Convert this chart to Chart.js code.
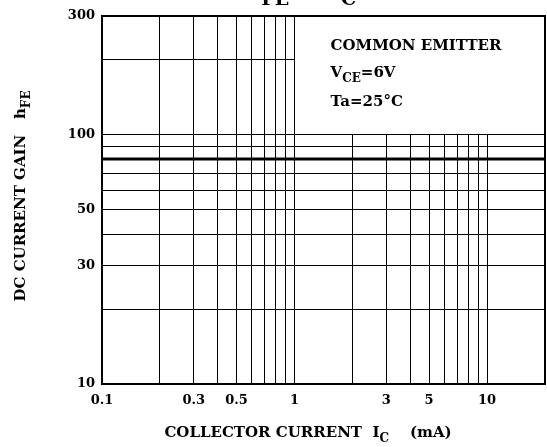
<!DOCTYPE html>
<html>
<head>
<meta charset="utf-8">
<script src="https://cdn.jsdelivr.net/npm/chart.js@4/dist/chart.umd.min.js"></script>
<style>
  html, body { margin: 0; padding: 0; background: #fff; }
  #wrap { width: 547px; height: 447px; position: relative; }
</style>
</head>
<body>
<div id="wrap"><canvas id="c"></canvas></div>
<script>
// ---- data ----
const collectorCurrent = [0.1, 20];          // IC (mA)
const dcCurrentGain = [80, 80];              // hFE
const xGridValues = [0.1, 0.2, 0.3, 0.4, 0.5, 0.6, 0.7, 0.8, 0.9, 1, 2, 3, 4, 5, 6, 7, 8, 9, 10, 20];
const yGridValues = [10, 20, 30, 40, 50, 60, 70, 80, 90, 100, 200, 300];
const xTickLabels = [0.1, 0.3, 0.5, 1, 3, 5, 10];
const yTickLabels = [10, 30, 50, 100, 300];
const conditionLines = ["COMMON EMITTER", "VCE=6V", "Ta=25°C"];

const FONT = "'DejaVu Serif', 'Liberation Serif', serif";

function drawRich(ctx, parts, x, y, align, size, subScale) {
  const ss = subScale || 0.8;
  let total = 0;
  const widths = parts.map(p => {
    ctx.font = `bold ${p.sub ? Math.round(size * ss) : size}px ${FONT}`;
    const w = ctx.measureText(p.t).width;
    total += w;
    return w;
  });
  let cx = align === 'center' ? x - total / 2 : x;
  parts.forEach((p, i) => {
    ctx.font = `bold ${p.sub ? Math.round(size * ss) : size}px ${FONT}`;
    ctx.fillText(p.t, cx, y + (p.sub ? size * 0.35 : 0));
    cx += widths[i];
  });
}

const framePlugin = {
  id: 'frame',
  beforeDatasetsDraw(chart) {
    const { ctx, chartArea: a, scales } = chart;
    const x1 = Math.floor(scales.x.getPixelForValue(1));
    const y100 = Math.floor(scales.y.getPixelForValue(100));
    ctx.save();
    ctx.fillStyle = '#fff';
    ctx.fillRect(x1 + 1, a.top + 1, a.right - x1 + 2, y100 - a.top - 1);
    ctx.restore();
  },
  afterDatasetsDraw(chart) {
    const { ctx, chartArea: a, scales } = chart;
    ctx.save();
    ctx.strokeStyle = '#000';
    ctx.lineWidth = 2;
    ctx.beginPath();
    ctx.moveTo(a.left, a.top);
    ctx.lineTo(a.right, a.top);
    ctx.lineTo(a.right, a.bottom);
    ctx.stroke();
    // condition text
    ctx.fillStyle = '#000';
    ctx.textBaseline = 'alphabetic';
    const tx = scales.x.getPixelForValue(1) + 36;
    ctx.font = `bold 15px ${FONT}`;
    ctx.fillText(conditionLines[0], tx, 50);
    drawRich(ctx, [{t: 'V'}, {t: 'CE', sub: true}, {t: '=6V'}], tx, 77, 'left', 15);
    ctx.font = `bold 15px ${FONT}`;
    ctx.fillText(conditionLines[2], tx, 106);
    // x axis title
    drawRich(ctx, [{t: 'COLLECTOR CURRENT  I'}, {t: 'C', sub: true}, {t: '    (mA)'}], 308, 437, 'center', 15);
    // y axis title
    ctx.save();
    ctx.translate(25, 196);
    ctx.rotate(-Math.PI / 2);
    drawRich(ctx, [{t: 'DC CURRENT GAIN   h'}, {t: 'FE', sub: true}], 0, 0, 'center', 15);
    ctx.restore();
    // chart title (cut off at top)
    drawRich(ctx, [{t: 'h'}, {t: 'FE', sub: true}, {t: ' — I'}, {t: 'C', sub: true}], 300, -3, 'center', 24);
    ctx.restore();
  }
};

new Chart(document.getElementById('c'), {
  type: 'scatter',
  data: {
    datasets: [{
      data: collectorCurrent.map((x, i) => ({ x, y: dcCurrentGain[i] })),
      showLine: true,
      borderColor: '#000',
      borderWidth: 3,
      pointRadius: 0,
      fill: false
    }]
  },
  options: {
    responsive: true,
    maintainAspectRatio: false,
    animation: false,
    layout: { padding: { top: 16, right: 2, left: 0, bottom: 0 } },
    plugins: { legend: { display: false }, tooltip: { enabled: false }, title: { display: false } },
    scales: {
      x: {
        type: 'logarithmic',
        min: 0.1,
        max: 20,
        afterBuildTicks(scale) { scale.ticks = xGridValues.map(v => ({ value: v })); },
        afterFit(scale) { scale.height = 63; scale.paddingLeft = 0; scale.paddingRight = 0; },
        ticks: {
          autoSkip: false,
          maxRotation: 0,
          padding: 9,
          color: '#000',
          font: { family: FONT, size: 13, weight: 'bold' },
          callback: v => xTickLabels.includes(v) ? String(v) : ''
        },
        grid: { color: '#000', lineWidth: 1, drawTicks: false },
        border: { color: '#000', width: 2 }
      },
      y: {
        type: 'logarithmic',
        min: 10,
        max: 300,
        afterBuildTicks(scale) { scale.ticks = yGridValues.map(v => ({ value: v })); },
        afterFit(scale) { scale.width = 102; scale.paddingTop = 0; scale.paddingBottom = 0; },
        ticks: {
          autoSkip: false,
          padding: 7,
          color: '#000',
          font: { family: FONT, size: 13, weight: 'bold' },
          callback: v => yTickLabels.includes(v) ? String(v) : ''
        },
        grid: { color: '#000', lineWidth: 1, drawTicks: false },
        border: { color: '#000', width: 2 }
      }
    }
  },
  plugins: [framePlugin]
});
</script>
</body>
</html>
